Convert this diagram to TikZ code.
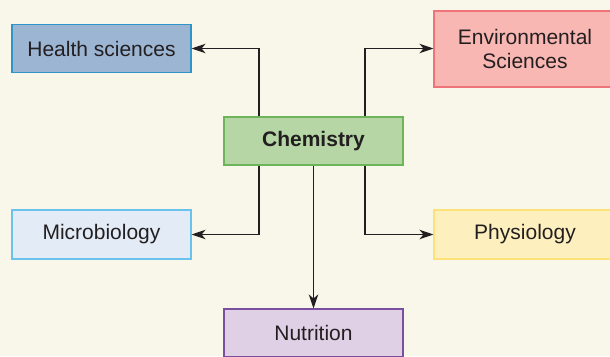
\documentclass[tikz,border=0pt]{standalone}
\usepackage{fontspec}
\setmainfont{Liberation Sans}
\usetikzlibrary{arrows.meta}
\definecolor{bg}{HTML}{F9F6EA}
\definecolor{txt}{HTML}{231F20}
\definecolor{hsF}{HTML}{9CB5D3}\definecolor{hsD}{HTML}{2F95C8}
\definecolor{evF}{HTML}{F8B7B3}\definecolor{evD}{HTML}{EE7479}
\definecolor{chF}{HTML}{B6D6A6}\definecolor{chD}{HTML}{6CB55A}
\definecolor{mbF}{HTML}{E3EBF6}\definecolor{mbD}{HTML}{69C3EC}
\definecolor{phF}{HTML}{FDF0BE}\definecolor{phD}{HTML}{FDE27A}
\definecolor{nuF}{HTML}{E0D0E6}\definecolor{nuD}{HTML}{7B4FA0}
\begin{document}
\begin{tikzpicture}[x=1pt,y=-1pt,
  box/.style={draw, line width=1.1pt, rectangle, inner sep=0pt, align=center,
    text=txt, font=\fontsize{21}{24.5}\selectfont},
  arr/.style={draw=txt, line width=1.1pt, -{Stealth[length=14pt,width=9.5pt,inset=4pt]}}]
\fill[bg] (0,0) rectangle (610,356);
\useasboundingbox (0,0) rectangle (610,356);
\node[box, fill=hsF, draw=hsD, minimum width=179pt, minimum height=48pt] (hs) at (101.5,48.5) {Health sciences};
\node[box, fill=evF, draw=evD, minimum width=182pt, minimum height=76pt] (ev) at (525,49) {Environmental\\Sciences};
\node[box, fill=chF, draw=chD, minimum width=179pt, minimum height=48pt, font=\fontsize{21}{24.5}\selectfont\bfseries] (ch) at (313.5,141) {Chemistry};
\node[box, fill=mbF, draw=mbD, minimum width=179pt, minimum height=49pt] (mb) at (101.5,234.5) {Microbiology};
\node[box, fill=phF, draw=phD, minimum width=182pt, minimum height=49pt] (ph) at (525,234.5) {Physiology};
\node[box, fill=nuF, draw=nuD, minimum width=179pt, minimum height=48pt] (nu) at (313.5,333) {Nutrition};
\coordinate (evin) at (ev.west |- hs.east);
\draw[arr] ([xshift=-54.5pt]ch.north) |- (hs.east);
\draw[arr] ([xshift=51.5pt]ch.north) |- (evin);
\draw[arr] ([xshift=-54.5pt]ch.south) |- (mb.east);
\draw[arr] ([xshift=51.5pt]ch.south) |- (ph.west);
\draw[arr] (ch.south) -- (nu.north);
\end{tikzpicture}
\end{document}
